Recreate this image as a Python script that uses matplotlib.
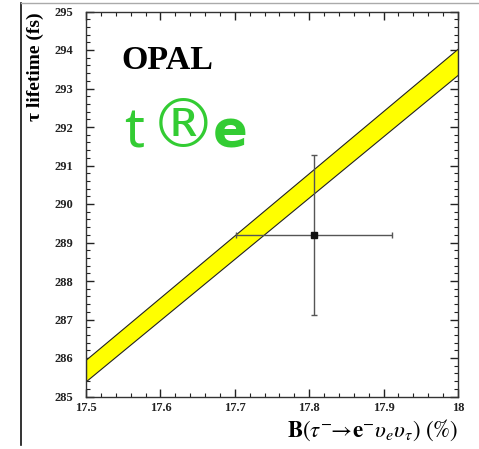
import numpy as np
import matplotlib
matplotlib.use("Agg")
import matplotlib.pyplot as plt
from matplotlib.lines import Line2D
from matplotlib.ticker import MultipleLocator

# band: lifetime vs branching ratio (edges at the two ends of the x range)
band_x = [17.5, 18.0]
band_hi = [285.96, 294.04]
band_lo = [285.40, 293.36]

# measured point
pt_x = 17.806
pt_y = 289.19
pt_xerr = 0.105
pt_yerr = 2.08

xticks = [17.5, 17.6, 17.7, 17.8, 17.9, 18.0]
xticklabels = ["17.5", "17.6", "17.7", "17.8", "17.9", "18"]
yticks = [285, 286, 287, 288, 289, 290, 291, 292, 293, 294, 295]

plt.rcParams['font.family'] = ['Liberation Serif', 'DejaVu Serif']
plt.rcParams['mathtext.fontset'] = 'stix'

W, H = 479, 449
fig = plt.figure(figsize=(W / 100, H / 100), dpi=100)
ax = fig.add_axes([86 / W, 1 - 396.5 / H, (458 - 86) / W, (396.5 - 11.5) / H])

ax.fill_between(band_x, band_lo, band_hi, color='#ffff00', edgecolor='#222222', linewidth=0.8, zorder=2)
ax.errorbar(pt_x, pt_y, xerr=pt_xerr, yerr=pt_yerr, fmt='s', color='#111111', ecolor='#555555',
            markersize=4, elinewidth=1.0, capsize=2.5, capthick=1.0, zorder=3)

ax.set_xlim(17.5, 18.0)
ax.set_ylim(285, 295)
ax.set_xticks(xticks)
ax.set_xticklabels(xticklabels)
ax.set_yticks(yticks)
ax.set_yticklabels([str(v) for v in yticks])
ax.xaxis.set_minor_locator(MultipleLocator(0.02))
ax.yaxis.set_minor_locator(MultipleLocator(0.2))
ax.tick_params(which='both', direction='in', top=True, right=True, labelsize=9, colors='#222222')
ax.tick_params(which='major', length=6, width=1.0)
ax.tick_params(which='minor', length=3, width=0.8)
ax.tick_params(axis='y', pad=9)
ax.tick_params(axis='x', pad=4)
for lab in ax.get_xticklabels() + ax.get_yticklabels():
    lab.set_fontweight('bold')
for s in ax.spines.values():
    s.set_color('#333333')
    s.set_linewidth(1.0)

fig.text(35 / W, 1 - 12 / H, "τ lifetime (fs)", rotation=90, ha='center', va='top',
         fontsize=14, fontweight='bold')
fig.text(458 / W, 1 - 430 / H,
         r"$\mathbf{B}(\tau^{-}\!\!\rightarrow\!\mathbf{e}^{-}\upsilon_{e}\upsilon_{\tau})\ (\%)$",
         ha='right', va='center', fontsize=16.5)

fig.text(167 / W, 1 - 60 / H, "OPAL", ha='center', va='center', fontsize=24.5, fontweight='bold')

green = '#33cc33'
fig.text(124 / W, 1 - 148 / H, "t", ha='left', va='baseline', fontsize=40,
         family='Noto Sans', color=green)
fig.text(183 / W, 1 - 128 / H, "®", ha='center', va='center', fontsize=48,
         family='DejaVu Sans', color=green)
fig.text(213 / W, 1 - 148 / H, "e", ha='left', va='baseline', fontsize=37,
         family='DejaVu Sans', fontweight='bold', color=green)

# outer frame lines
fig.add_artist(Line2D([21 / W, 21 / W], [1 - 3 / H, 1 - 445 / H], color='#111111', linewidth=1.2))
fig.add_artist(Line2D([21 / W, 1.0], [1 - 3 / H, 1 - 3 / H], color='#aaaaaa', linewidth=1.0))

fig.savefig("out.png", dpi=100)
